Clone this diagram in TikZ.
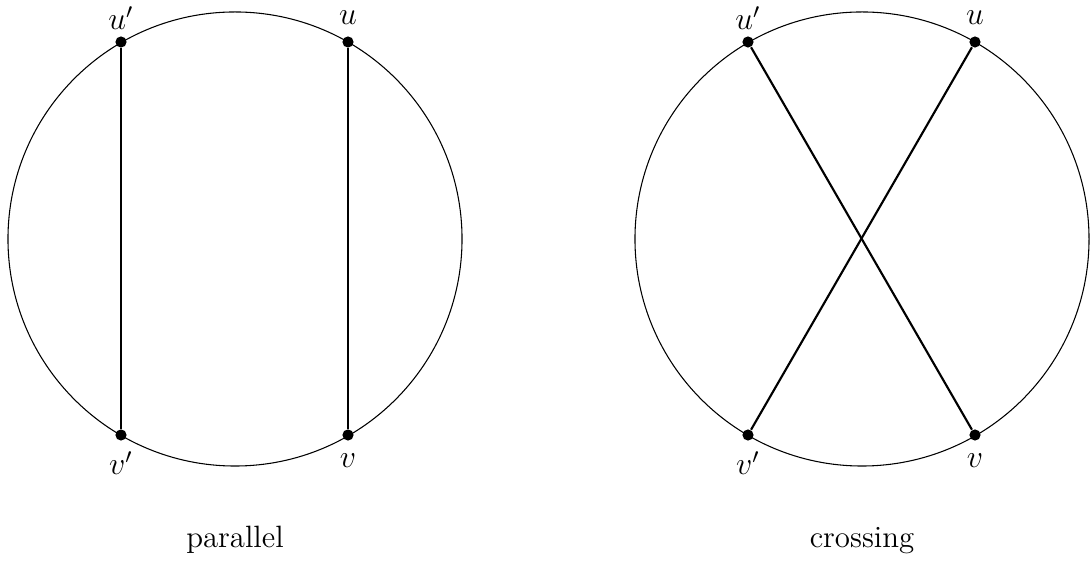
\documentclass[tikz,border=0pt]{standalone}
\begin{document}
\begin{tikzpicture}[x=0.013216cm,y=-0.013216cm,
  rim/.style={circle,draw,line width=0.4pt,minimum size=6cm,inner sep=0pt},
  chord/.style={draw,line width=0.8pt},
  pt/.style={circle,fill=black,inner sep=0pt,minimum size=4.2pt},
  lbl/.style={font=\fontsize{12}{14}\selectfont,inner sep=0pt},
  captext/.style={font=\fontsize{11.6}{14}\selectfont,inner sep=0pt}]
\useasboundingbox (0,0) rectangle (1091,563);
% left circle: parallel
\node[rim] (cL) at (235,239) {};
\node[pt] (Lup) at (121,42) {};
\node[pt] (Lu) at (348,42) {};
\node[pt] (Lvp) at (121,435) {};
\node[pt] (Lv) at (348,435) {};
\draw[chord] (Lup) -- (Lvp);
\draw[chord] (Lu) -- (Lv);
\node[lbl] (tLup) at (121,18) {$u'$};
\node[lbl] (tLu) at (348,18) {$u$};
\node[lbl] (tLvp) at (121,463) {$v'$};
\node[lbl] (tLv) at (348,461) {$v$};
\node[captext] (capL) at (235,540) {parallel};
% right circle: crossing
\node[rim] (cR) at (862,239) {};
\node[pt] (Rup) at (748,42) {};
\node[pt] (Ru) at (975,42) {};
\node[pt] (Rvp) at (748,435) {};
\node[pt] (Rv) at (975,435) {};
\draw[chord] (Rup) -- (Rv);
\draw[chord] (Ru) -- (Rvp);
\node[lbl] (tRup) at (748,18) {$u'$};
\node[lbl] (tRu) at (975,18) {$u$};
\node[lbl] (tRvp) at (748,463) {$v'$};
\node[lbl] (tRv) at (975,461) {$v$};
\node[captext] (capR) at (862,541) {crossing};
\end{tikzpicture}
\end{document}
